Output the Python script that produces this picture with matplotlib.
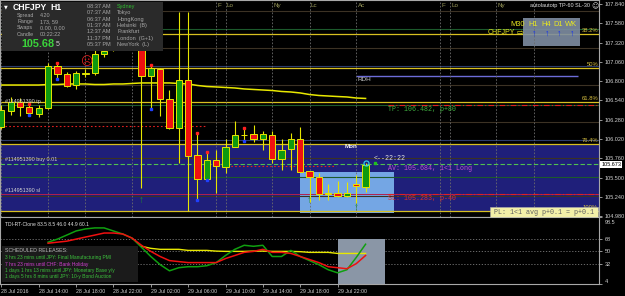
import numpy as np
import matplotlib
matplotlib.use('Agg')
import matplotlib.pyplot as plt
from matplotlib.patches import Rectangle
from matplotlib.transforms import ScaledTranslation

plt.rcParams['font.family'] = ['Liberation Sans', 'DejaVu Sans']
MONO = ['Liberation Mono', 'DejaVu Sans Mono']

# CHFJPY H1, first bar = 28 Jul 2016 10:00
opens = [106.182, 106.398, 106.519, 106.452, 106.358, 106.438, 107.005, 106.897, 106.748, 106.903,
         106.910, 107.166, 107.220, 107.382, 107.557, 107.288, 106.870, 106.964, 106.560, 106.169,
         106.816, 105.805, 105.482, 105.738, 105.643, 105.913, 106.075, 106.088, 106.021, 106.075,
         105.751, 105.886, 106.021, 105.590, 105.509, 105.279, 105.293, 105.253, 105.414, 105.374]
highs = [106.479, 106.587, 106.573, 106.492, 106.479, 107.045, 107.045, 106.924, 106.937, 106.964,
         107.220, 107.288, 107.449, 107.624, 107.650, 107.355, 107.018, 106.978, 106.681, 107.732,
         107.732, 106.102, 105.845, 105.872, 106.021, 106.263, 106.169, 106.209, 106.129, 106.129,
         106.021, 106.102, 106.182, 105.590, 105.563, 105.414, 105.455, 105.441, 105.536, 105.697]
lows = [106.155, 106.344, 106.331, 106.344, 106.317, 106.425, 106.829, 106.722, 106.695, 106.856,
        106.883, 107.126, 107.207, 107.328, 107.247, 105.360, 106.425, 106.331, 106.155, 105.697,
        105.050, 105.199, 105.468, 105.293, 105.563, 105.913, 105.994, 105.980, 105.872, 105.697,
        105.603, 105.603, 105.576, 105.172, 105.199, 105.199, 105.239, 105.239, 105.158, 105.306]
closes = [106.412, 106.519, 106.452, 106.371, 106.438, 107.005, 106.897, 106.735, 106.910, 106.910,
          107.166, 107.207, 107.382, 107.557, 107.288, 106.870, 106.978, 106.560, 106.169, 106.816,
          105.792, 105.482, 105.738, 105.657, 105.913, 106.075, 106.081, 106.021, 106.088, 105.751,
          105.872, 106.021, 105.576, 105.509, 105.279, 105.286, 105.253, 105.293, 105.387, 105.673]
ma_line = [106.748, 106.748, 106.748, 106.748, 106.748, 106.755, 106.755, 106.762, 106.762, 106.762,
           106.755, 106.755, 106.762, 106.762, 106.769, 106.776, 106.776, 106.776, 106.776, 106.769,
           106.762, 106.742, 106.728, 106.722, 106.715, 106.708, 106.695, 106.688, 106.681, 106.674,
           106.661, 106.654, 106.641, 106.620, 106.607, 106.600, 106.593, 106.587, 106.573, 106.567]

nan = np.nan
tdi_green = [nan, nan, nan, nan, nan, 63.0, 67.3, 73.0, 78.8, 81.7, 83.1, 83.1, 78.8, 74.5, 68.7,
             55.8, 42.8, 31.3, 22.6, 27.0, 28.4, 28.4, 29.8, 34.2, 44.2, 52.9, 58.6, 57.2, 58.6,
             42.8, 42.8, 51.4, 42.8, 37.0, 31.3, 24.1, 19.8, 24.1, 41.4, 60.1]
tdi_red = [nan, nan, nan, nan, nan, 61.5, 63.0, 64.4, 67.3, 70.2, 73.0, 75.9, 75.9, 74.5, 68.7,
           58.6, 50.0, 42.8, 37.0, 35.6, 34.2, 34.2, 34.2, 34.2, 39.9, 44.2, 48.6, 50.0, 52.9,
           48.6, 48.6, 47.1, 42.8, 38.5, 34.2, 28.4, 27.0, 25.5, 32.7, 44.2]
tdi_yellow = [nan, nan, nan, nan, nan, nan, nan, nan, nan, nan, nan, nan, nan, nan, nan,
              57.2, 54.3, 52.9, 52.9, 52.9, 51.4, 51.4, 51.4, 50.4, 50.0, 50.0, 50.0, 50.4, 50.4,
              50.0, 50.0, 50.0, 49.6, 48.6, 48.6, 48.6, 47.1, 47.1, 47.1, 47.1]

time_ticks = [0, 4, 8, 12, 16, 20, 24, 28, 32, 36]
time_labels = ['28 Jul 2016', '28 Jul 14:00', '28 Jul 18:00', '28 Jul 22:00', '29 Jul 02:00',
               '29 Jul 06:00', '29 Jul 10:00', '29 Jul 14:00', '29 Jul 18:00', '29 Jul 22:00']
price_ticks = [107.840, 107.580, 107.320, 107.060, 106.800, 106.540,
               106.280, 106.020, 105.760, 105.500, 105.240, 104.980]
tdi_ticks = [98.5, 68, 50, 32, 4]
tdi_tick_labels = ['98.5', '68', '50', '32', '4']

fib_levels = [107.436, 106.978, 106.519, 105.953, 105.050]
fib_names = ['38.2%', '50%', '61.8%', '76.4%', '100%']
brown_levels = [107.746, 107.247, 106.748, 106.250, 105.765, 105.253]
green_levels = [107.503, 106.479, 105.509]
blue_levels = [107.005, 106.007]
rdh_level = 106.870
tp_price, entry_price, sl_price = 106.482, 105.684, 105.283
red_dot_levels = [106.196, 105.657]
red_dot_spans = [(0, 21.9), (23.7, 35.8)]
zone = (105.050, 105.940)
last_box = (32.0, 42.0, 105.023, 105.576)

# session separators; labels of the ones hidden under panels are left empty
session_bars = [0, 5, 9, 14, 23, 24, 29, 33, 38, 47, 48, 53, 57]
session_names = ['', '', '', '', 'F', 'Lo', 'Ny', 'Lc', 'Ac', 'F', 'Lo', 'Ny', '']
fractal_bars = [3, 6, 16, 21, 22, 26]
arrow_bars = [15, 33, 38]
arrow_prices = [105.199, 105.199, 105.104]

clock_times = ['08:37 AM', '07:37 AM', '06:37 AM', '01:37 AM', '12:37 AM', '11:37 PM', '05:37 PM']
clock_cities = ['Sydney', 'Tokyo', 'HongKong', 'Helsinki  (B)', 'Frankfurt', 'London  (G+1)', 'NewYork  (L)']
info_names = ['Spread', 'Range', 'Swaps', 'Candle']
info_values = ['4.20', '173, 59', '0.00, 0.00', '00:22:22']
releases = [('3 hrs 23 mins until JPY: Final Manufacturing PMI', '#3cc03c'),
            ('7 hrs 23 mins until CHF: Bank Holiday', '#d040d0'),
            ('1 days 1 hrs 13 mins until JPY: Monetary Base y/y', '#3cc03c'),
            ('1 days 5 hrs 8 mins until JPY: 10-y Bond Auction', '#3cc03c')]
tf_names = ['M30', 'H1', 'H4', 'D1', 'WK']

BULL, BEAR, EDGE = '#0f9a0f', '#f01010', '#e6e600'
W, H = 625, 296


def frame(x0, y0, x1, y1):
    return [x0 / W, 1 - y1 / H, (x1 - x0) / W, (y1 - y0) / H]


fig = plt.figure(figsize=(6.25, 2.96), dpi=100)
fig.patch.set_facecolor('black')
ax = fig.add_axes(frame(0, 0, 599, 217))
tdi = fig.add_axes(frame(0, 217, 599, 284), sharex=ax)
ov = fig.add_axes([0, 0, 1, 1])
ov.set_xlim(0, W)
ov.set_ylim(H, 0)
ov.axis('off')
ov.set_zorder(10)

for a in (ax, tdi):
    a.set_facecolor('black')
    for s in a.spines.values():
        s.set_color('#a8a8a8')
        s.set_linewidth(0.8)
ax.set_xlim(-0.15, 64.0)
ax.set_ylim(104.969, 107.894)

# ---- main price panel
ax.axhspan(zone[0], zone[1], color='#1f1f7a', zorder=0.3, lw=0)
bx0, bx1, by0, by1 = last_box
ax.add_patch(Rectangle((bx0, by0), bx1 - bx0, by1 - by0, fc='#74a6e4', ec='none', zorder=0.6))

for lv in brown_levels:
    ax.axhline(lv, color='#3c3224', lw=0.8, zorder=1)
for lv in green_levels:
    ax.axhline(lv, color='#1c5a2c', lw=0.8, zorder=1)
for lv in blue_levels:
    ax.axhline(lv, color='#2c3c6c', lw=0.8, zorder=1)
for lv, name in zip(fib_levels, fib_names):
    ax.axhline(lv, color='#d8c020', lw=0.9, zorder=1.1)
    ax.text(63.9, lv + 0.015, name, color='#d8c040', fontsize=4.2, ha='right', va='bottom', zorder=6)

ax.hlines(rdh_level, 38, 61.7, color='#6c6cd8', lw=1.0, zorder=1.2)
ax.text(38.1, rdh_level - 0.01, 'RDH', color='#c8c8c8', fontsize=4.6, va='top', zorder=6)

ax.axhline(entry_price, color='#50c050', lw=0.8, ls=(0, (4, 2)), zorder=1.3)
ax.axhline(sl_price, color='#b02050', lw=0.7, zorder=1.3)
for pr in (tp_price, sl_price):
    ax.hlines(pr, 41.4, 64, color='#e02020', lw=0.8, ls=(0, (5, 2, 1, 2)), zorder=1.4)
for lv, (x0, x1) in zip(red_dot_levels, red_dot_spans):
    ax.hlines(lv, x0, x1, color='#e02020', lw=0.8, ls=(0, (1.5, 2)), zorder=1.4)

for b, name in zip(session_bars, session_names):
    ax.axvline(b, color='#6c6c6c', lw=0.6, ls=(0, (2, 2)), zorder=1.2)
    if name:
        ax.text(b + 0.15, 107.82, name, color='#9a9a5a', fontsize=4.5, va='center', zorder=6)

ax.plot(range(len(ma_line)), ma_line, color='#e8e800', lw=1.1, zorder=2)

for i in range(len(opens)):
    o, h, l, c = opens[i], highs[i], lows[i], closes[i]
    ax.vlines(i, l, h, color=EDGE, lw=0.8, zorder=3)
    bot, top = min(o, c), max(o, c)
    ax.add_patch(Rectangle((i - 0.33, bot), 0.66, max(top - bot, 0.003),
                           fc=BULL if c >= o else BEAR, ec=EDGE, lw=0.7, zorder=4))

ax.plot(fractal_bars, [highs[i] for i in fractal_bars], 's', color='#ff2020', ms=2, zorder=5)
ax.plot(fractal_bars, [lows[i] for i in fractal_bars], 's', color='#2040ff', ms=2, zorder=5)
for b, pr in zip(arrow_bars, arrow_prices):
    ax.text(b, pr, '\u2191', color='#20902a', fontsize=7, fontweight='bold', ha='center', va='center', zorder=5)
ax.text(9.05, 107.058, '\u2639', color='#e02020', fontsize=8.5, ha='center', va='center',
        family=['DejaVu Sans'], zorder=5)
ax.plot([39], [highs[39]], 'o', mfc='none', mec='#30c8e8', mew=0.9, ms=3.6, zorder=5)
ax.plot([40], [highs[39]], 's', color='#20c020', ms=2, zorder=5)

ax.text(41.4, tp_price - 0.012, 'TP: 106.482, p+80', color='#40b040', fontsize=4.8, family=MONO, va='top', zorder=6)
ax.text(41.4, entry_price - 0.012, 'AV: 105.684, 1<1 Long', color='#c050d0', fontsize=4.8, family=MONO, va='top', zorder=6)
ax.text(41.4, sl_price - 0.012, 'SL: 105.283, p-40', color='#d83030', fontsize=4.8, family=MONO, va='top', zorder=6)
ax.text(39.9, entry_price + 0.02, '<--22:22', color='#e0e0e0', fontsize=4.8, family=MONO, va='bottom', zorder=6)
ax.text(37.4, 105.926, 'Mon', color='#f0f0f0', fontsize=4.5, fontweight='bold', ha='center', va='center', zorder=6)
ax.text(0.39, tp_price + 0.015, '#114951390 tp', color='#d0d0d0', fontsize=3.9, va='bottom', zorder=6)
ax.text(0.39, entry_price + 0.02, '#114951390 buy 0.01', color='#d0d0d0', fontsize=3.9, va='bottom', zorder=6)
ax.text(0.39, sl_price + 0.015, '#114951390 sl', color='#d0d0d0', fontsize=3.9, va='bottom', zorder=6)

ax.yaxis.tick_right()
ax.set_yticks(price_ticks)
ax.set_yticklabels([f'{p:.3f}' for p in price_ticks])
ax.tick_params(axis='y', colors='#d0d0d0', labelsize=4, length=2, width=0.5, pad=2)
ax.tick_params(axis='x', bottom=False, labelbottom=False)
ax.text(1.004, closes[-1], f'{closes[-1]:.3f}', transform=ax.get_yaxis_transform(), color='black',
        fontsize=4, va='center', ha='left', clip_on=False,
        bbox=dict(fc='white', ec='none', pad=0.7), zorder=7)

# timeframe box (pixel coordinates from the overlay)
ax.add_patch(Rectangle((523, 18), 57, 28, transform=ov.transData, fc='#7f8ea3', ec='none', alpha=0.9, zorder=1.15))

# ---- TDI panel
tdi.set_ylim(4, 98.5)
for lv in (68, 50, 32):
    tdi.axhline(lv, color='#7a7a7a', lw=0.6, ls=(0, (1.5, 2)), zorder=1)
tdi.add_patch(Rectangle((36.0, 4), 5.05, 63.3, fc='#8a96a6', ec='none', zorder=1.5))
xs = range(len(tdi_green))
tdi.plot(xs, tdi_yellow, color='#e8e800', lw=1.0, zorder=2)
tdi.plot(xs, tdi_green, color='#10a010', lw=1.1, zorder=3)
tdi.plot(xs, tdi_red, color='#f01010', lw=1.1, zorder=3)
tdi.yaxis.tick_right()
tdi.set_yticks(tdi_ticks)
tdi.set_yticklabels(tdi_tick_labels)
tdi.tick_params(axis='y', colors='#d0d0d0', labelsize=4, length=2, width=0.5, pad=2)
ylabs = tdi.get_yticklabels()
ylabs[0].set_va('top')
ylabs[0].set_transform(ylabs[0].get_transform() + ScaledTranslation(0, -0.025, fig.dpi_scale_trans))
ylabs[-1].set_va('bottom')
tdi.set_xticks(time_ticks)
tdi.set_xticklabels(time_labels, ha='left')
tdi.tick_params(axis='x', colors='#d0d0d0', labelsize=3.8, length=2, width=0.5, pad=1.5)
tdi.set_xlim(-0.15, 64.0)

# ---- overlay panels in pixel coordinates
ov.add_patch(Rectangle((2, 2), 161, 49, fc='#2a2a2a', ec='none'))
ov.text(6, 7, '\u25BC', color='white', fontsize=3.5, va='center', ha='center', family=['DejaVu Sans'])
ov.text(13, 7.3, 'CHFJPY', color='white', fontsize=6.2, fontweight='bold', va='center')
ov.text(50, 7.3, 'H1', color='white', fontsize=6.2, fontweight='bold', va='center')
for k, (nm, val) in enumerate(zip(info_names, info_values)):
    yy = 15.7 + k * 6.1
    ov.text(17, yy, nm, color='#a8a8a8', fontsize=3.9, va='center')
    ov.text(40, yy, val, color='#a8a8a8', fontsize=3.9, va='center')
ov.text(21, 44, '105.68', color='#3ad43a', fontsize=7.8, fontweight='bold', va='center')
ov.text(56, 45, '5', color='#d0d0d0', fontsize=5, va='center')
for k, (tm, city) in enumerate(zip(clock_times, clock_cities)):
    yy = 6.3 + k * 6.4
    ov.text(87, yy, tm, color='#a8a8a8', fontsize=4, va='center')
    ov.text(117, yy, city, color='#30c030' if k == 0 else '#a8a8a8', fontsize=4, va='center')

ov.text(590, 6, 'autolautotp TP-60 SL-30', color='#e0e0e0', fontsize=4, ha='right', va='center')
ov.text(595, 6, '\u263A', color='#e0e0e0', fontsize=5, ha='center', va='center', family=['DejaVu Sans'])
for k, (nm, xx) in enumerate(zip(tf_names, [518, 533, 546, 558, 571])):
    ov.text(xx, 24, nm, color='#e8e820', fontsize=5.4, ha='center', va='center')
    if k > 0:
        ov.text(xx + 1, 33, '\u2191', color='#1030f0', fontsize=6.5, fontweight='bold', ha='center', va='center')
ov.text(488, 33, 'CHFJPY', color='#e8e820', fontsize=5, va='center')
ov.text(520, 33, '\u21E8', color='#e8e820', fontsize=6, ha='center', va='center', family=['DejaVu Sans'])

ov.add_patch(Rectangle((490, 207), 108, 10, fc='#f3f0a8', ec='#b0b0b0', lw=0.4))
ov.text(494, 212, 'PL: 1<1 avg p+0.1 = p+0.1', color='#606060', fontsize=4.9, family=MONO, va='center')

ov.text(5, 225, 'TDI-RT-Clone 83.5 8.5 46.0 44.9 60.1', color='#e0e0e0', fontsize=3.6, va='center')
ov.add_patch(Rectangle((2, 246), 136, 36, fc='#1b1b1b', ec='none'))
ov.text(5, 251, 'SCHEDULED RELEASES:', color='#b8b8b8', fontsize=3.8, va='center')
for k, (txt, col) in enumerate(releases):
    ov.text(5, 258 + k * 6.3, txt, color=col, fontsize=3.5, va='center')

fig.savefig('out.png', dpi=100, facecolor='black')
